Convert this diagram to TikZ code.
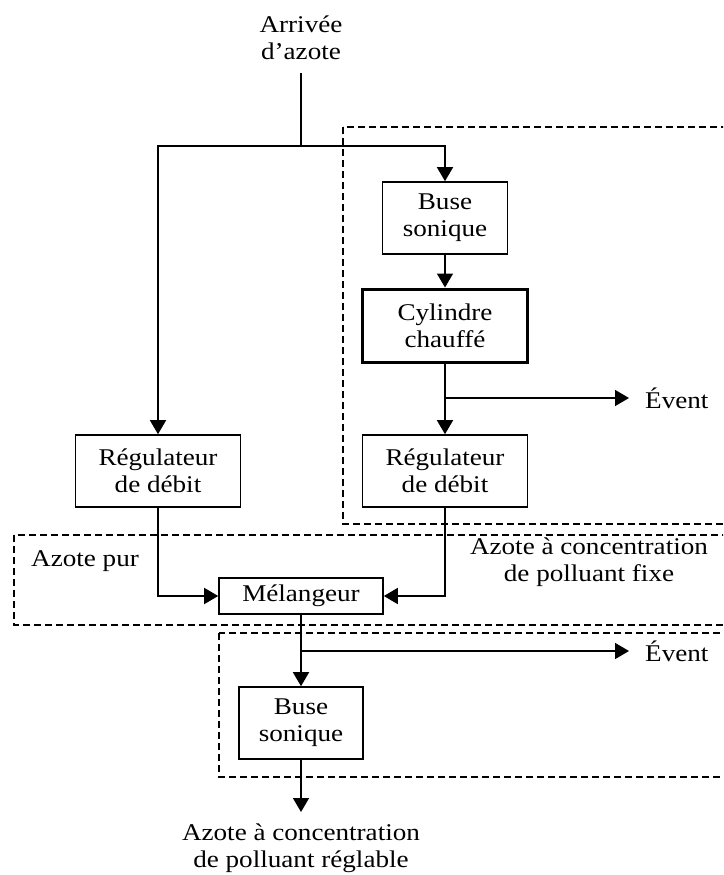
\documentclass[tikz,border=0pt]{standalone}
\usepackage{fontspec}
\setmainfont{Liberation Serif}[FakeStretch=1.13]
\usetikzlibrary{arrows.meta}
\begin{document}
\begin{tikzpicture}[x=1pt,y=-1pt,
  every node/.style={font=\fontsize{24pt}{27pt}\selectfont},
  box/.style={draw, line width=1.6pt, align=center, inner sep=0pt, minimum height=72pt},
  flow/.style={line width=1.6pt, -{Triangle[length=14pt,width=16pt]}},
  line/.style={line width=1.6pt},
  zone/.style={draw, line width=1.3pt, dash pattern=on 7pt off 4pt},
  lbl/.style={align=center, inner sep=0pt}]
\useasboundingbox (0,0) rectangle (723,875);
\clip (0,0) rectangle (723,875);
% dashed zones
\draw[zone] (343,127) rectangle (760,524);
\draw[zone] (14,535) rectangle (760,625);
\draw[zone] (219,633) rectangle (760,777);
% nodes
\node[lbl] (arr) at (301,38) {Arrivée\\d’azote};
\coordinate (in) at (301,73);
\coordinate (split) at (301,146);
\node[box, minimum width=125pt] (buse1) at (445,218) {Buse\\sonique};
\node[box, minimum width=165pt, minimum height=73pt, line width=3pt] (cyl) at (445,325.5) {Cylindre\\chauffé};
\node[box, minimum width=165pt] (reg2) at (445,471) {Régulateur\\de débit};
\node[box, minimum width=165pt] (reg1) at (158,471) {Régulateur\\de débit};
\node[box, minimum width=164pt, minimum height=36pt] (mel) at (301,596) {Mélangeur};
\node[box, minimum width=124pt] (buse2) at (301,723) {Buse\\sonique};
\node[lbl, anchor=west, inner xsep=16pt] (ev1) at (629,398) {Évent};
\node[lbl, anchor=west, inner xsep=16pt] (ev2) at (629,651) {Évent};
\node[lbl, anchor=west] (pur) at (31,561) {Azote pur};
\node[lbl] (fixe) at (589,562) {Azote à concentration\\de polluant fixe};
\node[lbl, anchor=north, inner ysep=12pt] (out) at (301,812) {Azote à concentration\\de polluant réglable};
% connectors
\draw[line] (in) -- (split);
\draw[flow] (split) -| (reg1.north);
\draw[flow] (split) -| (buse1.north);
\draw[flow] (buse1) -- (cyl);
\draw[flow] (cyl) -- (reg2);
\draw[flow] (cyl.south |- ev1.west) -- (ev1.west);
\draw[flow] (reg1.south) |- (mel.west);
\draw[flow] (reg2.south) |- (mel.east);
\draw[flow] (mel) -- (buse2);
\draw[flow] (mel.south |- ev2.west) -- (ev2.west);
\draw[flow] (buse2) -- (out);
\end{tikzpicture}
\end{document}
